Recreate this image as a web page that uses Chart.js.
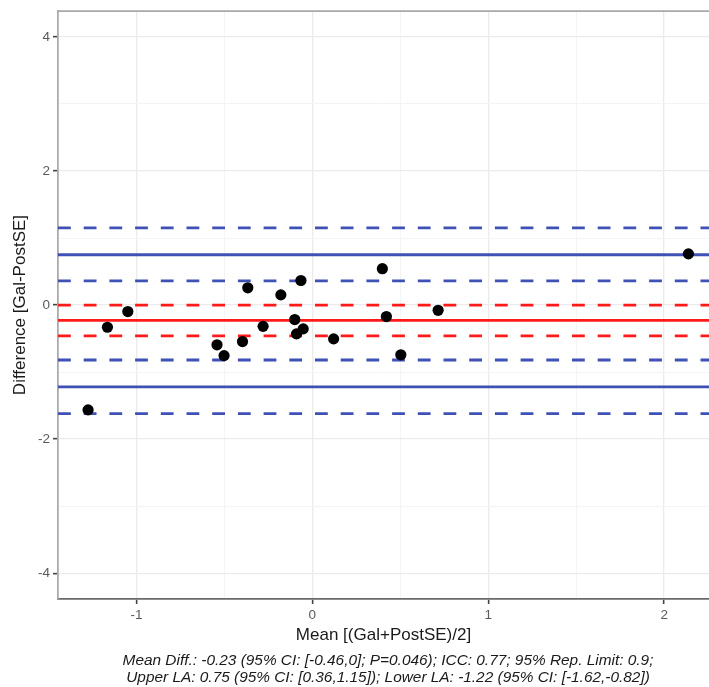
<!DOCTYPE html>
<html><head><meta charset="utf-8">
<script src="https://cdn.jsdelivr.net/npm/chart.js@4.4.1/dist/chart.umd.min.js"></script>
<style>html,body{margin:0;padding:0;background:#fff;}canvas{display:block;}</style>
</head><body>
<canvas id="c" width="709" height="687"></canvas>
<script>
// ---- data ----
const meanX = [-1.275, -1.165, -1.049, -0.542, -0.502, -0.397, -0.367, -0.280, -0.179, -0.100, -0.052, -0.090, -0.065, 0.121, 0.398, 0.421, 0.503, 0.715, 2.138];
const diffY = [-1.564, -0.331, -0.097, -0.593, -0.754, -0.545, 0.257, -0.318, 0.152, -0.216, -0.355, -0.430, 0.366, -0.504, 0.542, -0.172, -0.742, -0.078, 0.764];
const meanDiff = -0.23;
const meanDiffCI = [-0.46, 0];
const upperLA = 0.75;
const upperLACI = [0.36, 1.15];
const lowerLA = -1.22;
const lowerLACI = [-1.62, -0.82];
const xTickValues = [-1, 0, 1, 2];
const xTickLabels = ['-1', '0', '1', '2'];
const xMinorValues = [-0.5, 0.5, 1.5];
const yTickValues = [-4, -2, 0, 2, 4];
const yTickLabels = ['-4', '-2', '0', '2', '4'];
const yMinorValues = [-3, -1, 1, 3];
const xLimits = [-1.446, 2.255];
const yLimits = [-4.385, 4.385];
const xTitle = 'Mean [(Gal+PostSE)/2]';
const yTitle = 'Difference [Gal-PostSE]';
const captionLines = [
  'Mean Diff.: -0.23 (95% CI: [-0.46,0]; P=0.046); ICC: 0.77; 95% Rep. Limit: 0.9;',
  'Upper LA: 0.75 (95% CI: [0.36,1.15]); Lower LA: -1.22 (95% CI: [-1.62,-0.82])'
];

// ---- styles ----
const FONT = '"Liberation Sans", Arial, sans-serif';
const BLUE = '#3F51B5';
const RED = '#FF1A1A';
const DASH = [12.8, 12.9];

function hline(value, color, dashed) {
  return {
    type: 'line',
    data: [{x: xLimits[0], y: value}, {x: xLimits[1], y: value}],
    borderColor: color,
    borderWidth: 2.8,
    borderDash: dashed ? DASH : [],
    borderDashOffset: 0,
    pointRadius: 0,
    tension: 0,
    fill: false,
    order: 1
  };
}

const points = meanX.map((x, i) => ({x: x, y: diffY[i]}));

const datasets = [
  {
    type: 'scatter',
    data: points,
    backgroundColor: '#000',
    borderColor: '#000',
    borderWidth: 0,
    pointRadius: 5.6,
    order: 0
  },
  hline(upperLA, BLUE, false),
  hline(upperLACI[0], BLUE, true),
  hline(upperLACI[1], BLUE, true),
  hline(lowerLA, BLUE, false),
  hline(lowerLACI[0], BLUE, true),
  hline(lowerLACI[1], BLUE, true),
  hline(meanDiff, RED, false),
  hline(meanDiffCI[0], RED, true),
  hline(meanDiffCI[1], RED, true)
];

const isMajor = (arr, v) => arr.some(a => Math.abs(a - v) < 1e-9);

const framePlugin = {
  id: 'frame',
  afterDraw(chart) {
    const {ctx, chartArea} = chart;
    ctx.save();
    // top border of panel
    ctx.strokeStyle = '#a8a8a8';
    ctx.lineWidth = 1.8;
    ctx.beginPath();
    ctx.moveTo(chartArea.left - 1, chartArea.top);
    ctx.lineTo(chartArea.right, chartArea.top);
    ctx.stroke();
    // caption
    ctx.fillStyle = '#1a1a1a';
    ctx.font = 'italic 15.4px ' + FONT;
    ctx.textAlign = 'center';
    ctx.textBaseline = 'middle';
    const cx = (chartArea.left + chartArea.right) / 2 + 4.5;
    ctx.fillText(captionLines[0], cx, 661);
    ctx.fillText(captionLines[1], cx, 678);
    ctx.restore();
  }
};

new Chart(document.getElementById('c'), {
  type: 'scatter',
  data: {datasets: datasets},
  plugins: [framePlugin],
  options: {
    responsive: false,
    devicePixelRatio: 1,
    animation: false,
    layout: {autoPadding: false, padding: {top: 10, right: 0, bottom: 0, left: 0}},
    plugins: {legend: {display: false}, tooltip: {enabled: false}},
    scales: {
      x: {
        type: 'linear',
        min: xLimits[0],
        max: xLimits[1],
        afterBuildTicks: s => {
          s.ticks = xTickValues.concat(xMinorValues).sort((a, b) => a - b).map(v => ({value: v}));
        },
        afterFit: s => { s.height = 88; },
        ticks: {
          autoSkip: false,
          maxRotation: 0,
          padding: 3,
          color: '#5a5a5a',
          font: {family: FONT, size: 13.5},
          callback: v => {
            const i = xTickValues.findIndex(t => Math.abs(t - v) < 1e-9);
            return i >= 0 ? xTickLabels[i] : '';
          }
        },
        grid: {
          color: c => isMajor(xTickValues, c.tick.value) ? '#ebebeb' : '#f4f4f4',
          lineWidth: c => isMajor(xTickValues, c.tick.value) ? 1.3 : 1,
          tickColor: c => isMajor(xTickValues, c.tick.value) ? '#444' : 'rgba(0,0,0,0)',
          tickLength: 5,
          tickWidth: 1.6
        },
        border: {display: true, color: '#6a6a6a', width: 1.8},
        title: {
          display: true,
          text: xTitle,
          color: '#1a1a1a',
          font: {family: FONT, size: 17},
          padding: {top: 0, bottom: 41.8}
        }
      },
      y: {
        type: 'linear',
        min: yLimits[0],
        max: yLimits[1],
        afterBuildTicks: s => {
          s.ticks = yTickValues.concat(yMinorValues).sort((a, b) => a - b).map(v => ({value: v}));
        },
        afterFit: s => { s.width = 58; },
        ticks: {
          autoSkip: false,
          padding: 3,
          color: '#5a5a5a',
          font: {family: FONT, size: 13.5},
          callback: v => {
            const i = yTickValues.findIndex(t => Math.abs(t - v) < 1e-9);
            return i >= 0 ? yTickLabels[i] : '';
          }
        },
        grid: {
          color: c => isMajor(yTickValues, c.tick.value) ? '#ebebeb' : '#f4f4f4',
          lineWidth: c => isMajor(yTickValues, c.tick.value) ? 1.3 : 1,
          tickColor: c => isMajor(yTickValues, c.tick.value) ? '#444' : 'rgba(0,0,0,0)',
          tickLength: 5,
          tickWidth: 1.6
        },
        border: {display: true, color: '#ababab', width: 1.8},
        title: {
          display: true,
          text: yTitle,
          color: '#1a1a1a',
          font: {family: FONT, size: 17},
          padding: {top: 10, bottom: 0}
        }
      }
    }
  }
});
</script>
</body></html>
